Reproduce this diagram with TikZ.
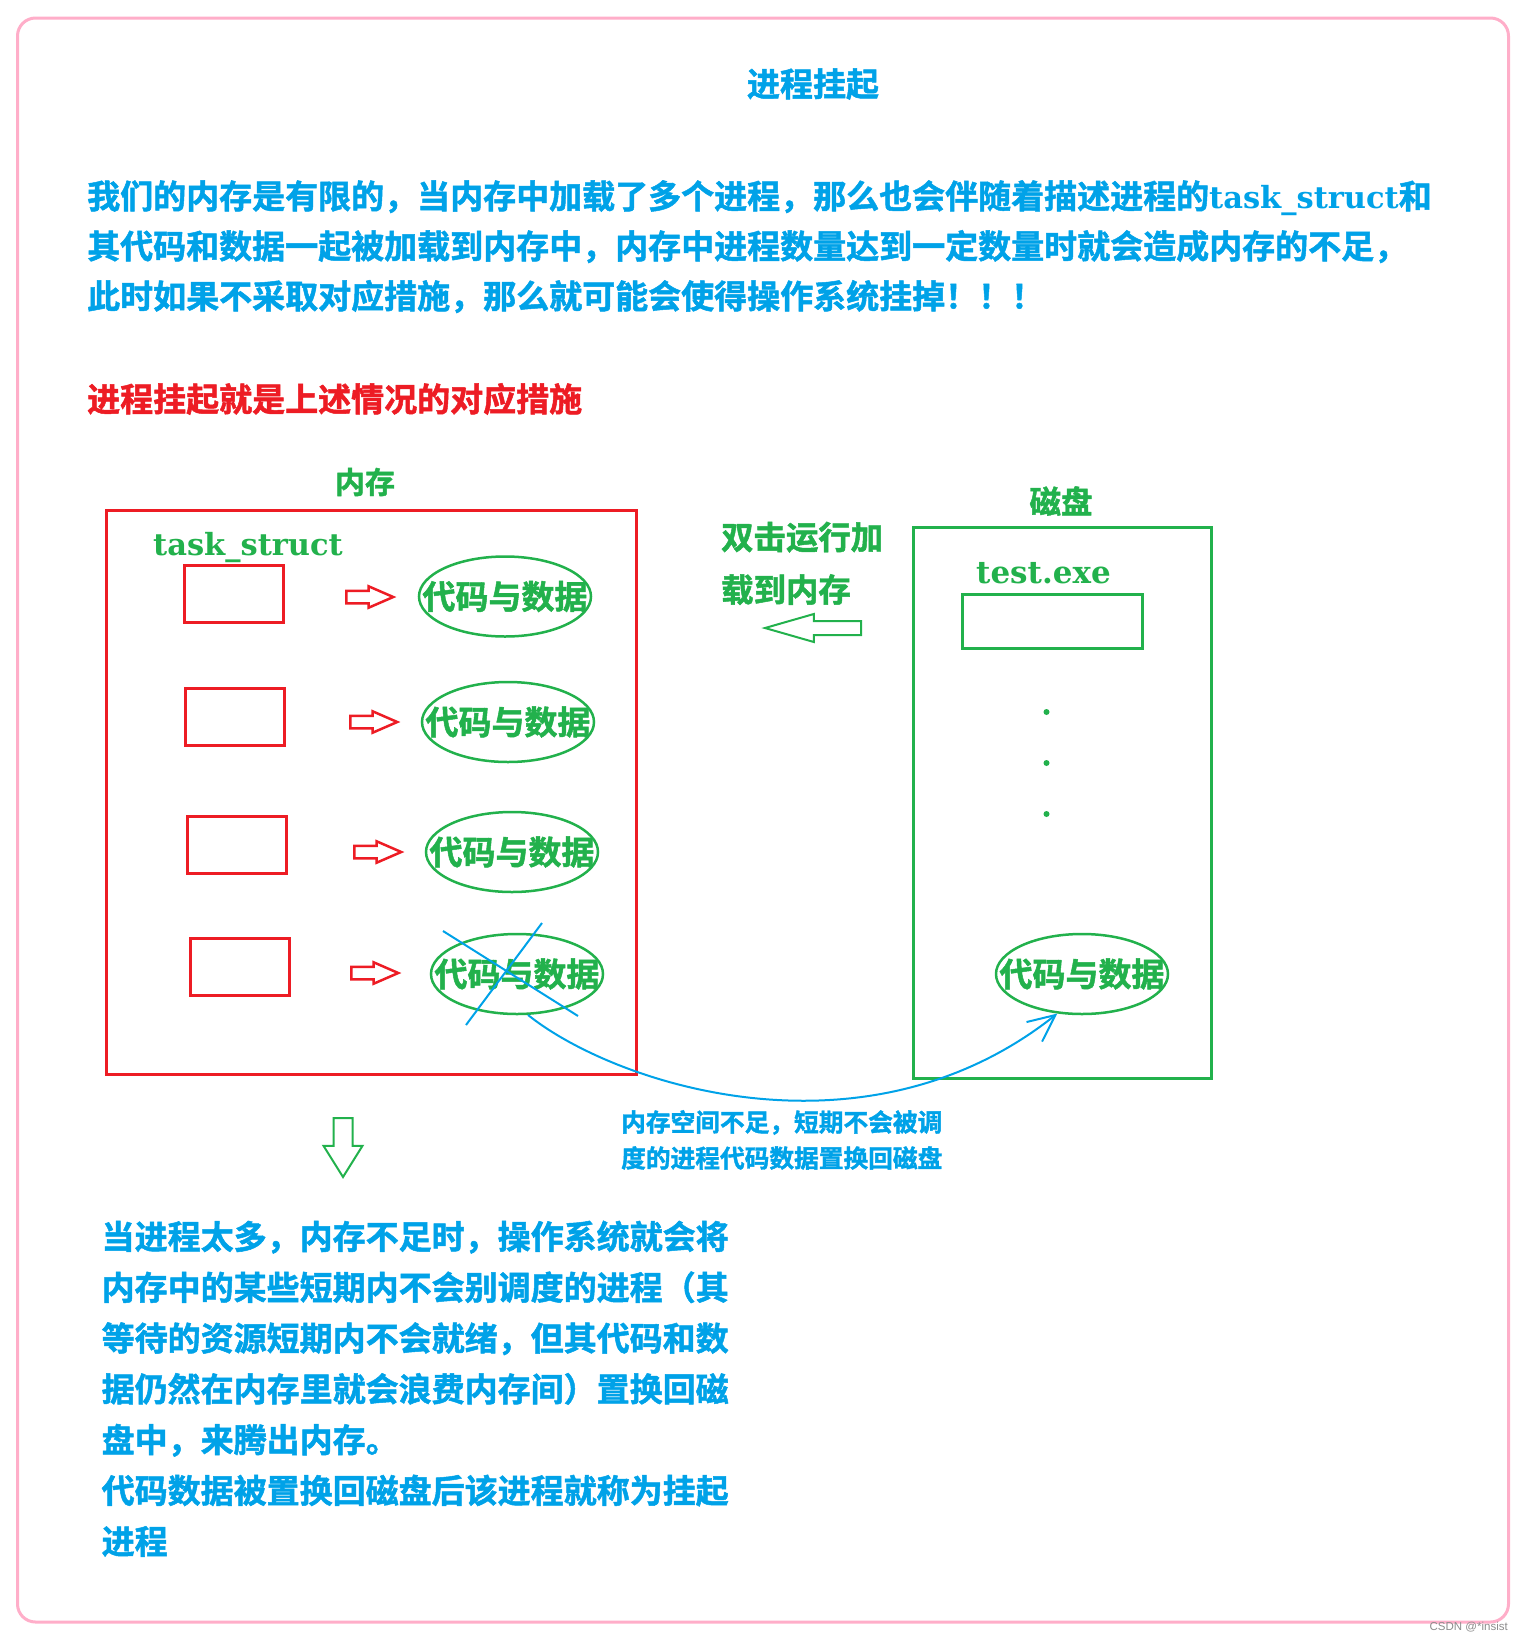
\documentclass[tikz,border=0pt]{standalone}
\usepackage{fontspec}
\usepackage{tikz}
\usetikzlibrary{shapes,arrows,arrows.meta,positioning}
\newfontfamily\cjk{Noto Sans CJK SC Bold}[FakeBold=1.5]
\newfontfamily\ser{DejaVu Serif Bold}
\newfontfamily\wmark{Liberation Sans}
\definecolor{pinkline}{RGB}{255,174,201}
\definecolor{skyblue}{RGB}{0,162,232}
\definecolor{leafgreen}{RGB}{34,177,76}
\definecolor{brightred}{RGB}{237,28,36}

\begin{document}
\begin{tikzpicture}
        [x=1pt, y=-1pt,
         every node/.style={inner sep=0pt},
         bluetxt/.style={text=skyblue, align=left, anchor=base west},
         membox/.style={draw=brightred, line width=3pt, minimum width=530pt, minimum height=564pt},
         diskbox/.style={draw=leafgreen, line width=3pt, minimum width=298pt, minimum height=551pt},
         taskbox/.style={draw=brightred, line width=3pt, minimum width=99pt, minimum height=57pt},
         exebox/.style={draw=leafgreen, line width=3pt, minimum width=180pt, minimum height=54pt},
         codedata/.style={draw=leafgreen, line width=2.5pt, ellipse, minimum width=172pt, minimum height=80pt},
         cdtext/.style={text=leafgreen, font=\cjk\fontsize{33}{33}\selectfont},
         redarrow/.style={draw=brightred, line width=2.5pt, single arrow, anchor=tail, inner sep=5pt,
                          minimum height=47pt, single arrow head extend=4.5pt, single arrow tip angle=47},
         greenarrow/.style={draw=leafgreen, line width=2pt, single arrow, anchor=tail},
         bluestroke/.style={draw=skyblue, line width=2pt}]
        \useasboundingbox (0,0) rectangle (1525,1639);
        \draw [pinkline, line width=3pt, rounded corners=18pt] (17.5,18) rectangle (1508.5,1622);

        \node [text=skyblue, font=\cjk\fontsize{33}{33}\selectfont] (title) at (813,84) {进程挂起};
        \node [bluetxt, font=\cjk\fontsize{33}{50}\selectfont] (intro) at (87,308.5)
            {我们的内存是有限的，当内存中加载了多个进程，那么也会伴随着描述进程的{\ser\fontsize{30.5}{30.5}\selectfont task\_struct}和\\
             其代码和数据一起被加载到内存中，内存中进程数量达到一定数量时就会造成内存的不足，\\
             此时如果不采取对应措施，那么就可能会使得操作系统挂掉！！！};
        \node [anchor=base west, text=brightred, font=\cjk\fontsize{33}{33}\selectfont] (measure) at (87,411.5)
            {进程挂起就是上述情况的对应措施};

        \node [membox] (mem) at (371,792) {};
        \node [text=leafgreen, font=\cjk\fontsize{30}{30}\selectfont] (memlabel) at (365,482) {内存};
        \node [anchor=base west, text=leafgreen, font=\ser\fontsize{30.5}{30.5}\selectfont] (tasklabel) at (153,555) {task\_struct};

        \node [taskbox] (t1) at (234,594) {};
        \node [taskbox] (t2) at (235,716.5) {};
        \node [taskbox] (t3) at (236.5,844.5) {};
        \node [taskbox] (t4) at (240,966.5) {};

        \node [redarrow] (r1) at (345,597) {};
        \node [redarrow] (r2) at (349,722) {};
        \node [redarrow] (r3) at (353,852) {};
        \node [redarrow] (r4) at (350,973) {};

        \node [codedata] (m1) at (505,596.5) {};
        \node [cdtext] (m1text) at (m1) {代码与数据};
        \node [codedata] (m2) at (508,722) {};
        \node [cdtext] (m2text) at (m2) {代码与数据};
        \node [codedata] (m3) at (512,852) {};
        \node [cdtext] (m3text) at (m3) {代码与数据};
        \node [codedata] (m4) at (517,974) {};
        \node [cdtext] (m4text) at (m4) {代码与数据};

        \node [diskbox] (disk) at (1062.5,803) {};
        \node [text=leafgreen, font=\cjk\fontsize{31.5}{31.5}\selectfont] (disklabel) at (1061,501) {磁盘};
        \node [anchor=base west, text=leafgreen, font=\ser\fontsize{31}{31}\selectfont] (exelabel) at (976,583) {test.exe};
        \node [exebox] (exe) at (1052,621) {};
        \fill [leafgreen] (1046.5,712) circle (3);
        \fill [leafgreen] (1046.5,763) circle (3);
        \fill [leafgreen] (1046.5,814) circle (3);
        \node [codedata] (d1) at (1082,974) {};
        \node [cdtext] (d1text) at (d1) {代码与数据};

        \node [anchor=base west, text=leafgreen, align=left, font=\cjk\fontsize{32.4}{52.5}\selectfont] (load) at (721,601.8)
            {双击运行加\\载到内存};
        \node [greenarrow, shape border rotate=180, inner sep=6pt, minimum height=96pt,
               single arrow head extend=7pt, single arrow tip angle=32] (loadarrow) at (862,628) {};

        \draw [bluestroke] (443,931) -- (578,1016);
        \draw [bluestroke] (542,923) -- (466,1025);
        \draw [bluestroke, -{Straight Barb[length=27pt,width=25pt]}]
            (m4.-75) .. controls (614,1084) and (864,1167) .. (d1.-122);
        \node [bluetxt, font=\cjk\fontsize{24.7}{36}\selectfont] (swap) at (621,1167.4)
            {内存空间不足，短期不会被调\\度的进程代码数据置换回磁盘};

        \node [greenarrow, shape border rotate=270, inner sep=8.5pt, minimum height=59pt,
               single arrow head extend=10pt, single arrow tip angle=64] (downarrow) at (343,1117) {};

        \node [bluetxt, font=\cjk\fontsize{33}{50.8}\selectfont] (explain) at (101.5,1553.8)
            {当进程太多，内存不足时，操作系统就会将\\
             内存中的某些短期内不会别调度的进程（其\\
             等待的资源短期内不会就绪，但其代码和数\\
             据仍然在内存里就会浪费内存间）置换回磁\\
             盘中，来腾出内存。\\
             代码数据被置换回磁盘后该进程就称为挂起\\
             进程};

        \node [anchor=east, text=black!45, font=\wmark\fontsize{11.5}{11.5}\selectfont] (mark) at (1508,1627) {CSDN @*insist};
    \end{tikzpicture}
\end{document}
